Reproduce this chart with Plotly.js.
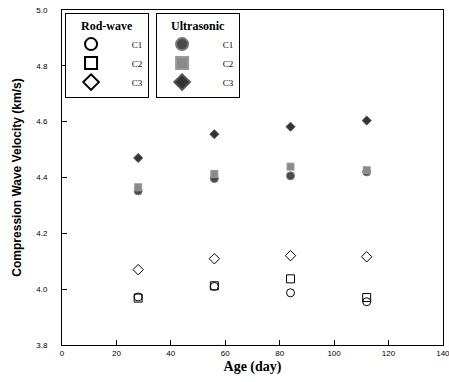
<!DOCTYPE html>
<html><head><meta charset="utf-8">
<script src="https://cdn.plot.ly/plotly-3.0.1.min.js"></script>
<style>html,body{margin:0;padding:0;background:#fff}#chart{width:449px;height:382px}</style>
</head><body><div id="chart"></div>
<script>
const ages = [28, 56, 84, 112];
const rodC1 = [3.972, 4.010, 3.987, 3.955];
const rodC2 = [3.968, 4.012, 4.037, 3.970];
const rodC3 = [4.070, 4.109, 4.120, 4.116];
const ultC1 = [4.352, 4.396, 4.406, 4.420];
const ultC2 = [4.365, 4.413, 4.439, 4.426];
const ultC3 = [4.470, 4.555, 4.582, 4.604];
const xTicks = [0, 20, 40, 60, 80, 100, 120, 140];
const yTicks = [3.8, 4.0, 4.2, 4.4, 4.6, 4.8, 5.0];

const pad = '\u00a0\u00a0\u00a0\u00a0\u00a0\u00a0\u00a0';
function tr(y, name, symbol, fill, lineColor, size, legend){
  return {x: ages, y: y, name: pad + name, type: 'scatter', mode: 'markers', legend: legend,
    marker: {symbol: symbol, size: size, color: fill, line: {color: lineColor, width: 1}}};
}
const data = [
  tr(rodC1, 'C1', 'circle-open', '#000', '#000', 8, 'legend'),
  tr(rodC2, 'C2', 'square-open', '#000', '#000', 8, 'legend'),
  tr(rodC3, 'C3', 'diamond-open', '#000', '#000', 8, 'legend'),
  tr(ultC1, 'C1', 'circle', '#4a4a4a', '#777', 8, 'legend2'),
  tr(ultC2, 'C2', 'square', '#8a8a8a', '#999', 7, 'legend2'),
  tr(ultC3, 'C3', 'diamond', '#333', '#555', 7, 'legend2')
];
const legBase = {
  bgcolor: '#fff', bordercolor: '#000', borderwidth: 1,
  font: {family: 'Liberation Serif', size: 9, color: '#000'},
  itemsizing: 'constant', itemwidth: 40, tracegroupgap: 0, yanchor: 'top', xanchor: 'left'
};
const layout = {
  width: 449, height: 382,
  margin: {l: 62, r: 6, t: 10, b: 37},
  paper_bgcolor: '#fff', plot_bgcolor: '#fff',
  showlegend: true,
  legend: Object.assign({}, legBase, {x: 0.008, y: 0.991,
    title: {text: '<b>Rod-wave</b>', side: 'top center', font: {family: 'Liberation Serif', size: 12, color: '#000'}}}),
  legend2: Object.assign({}, legBase, {x: 0.247, y: 0.991,
    title: {text: '<b>Ultrasonic</b>', side: 'top center', font: {family: 'Liberation Serif', size: 12, color: '#000'}}}),
  xaxis: {
    range: [0, 140.05], tickvals: xTicks, ticktext: xTicks.map(String),
    ticks: 'inside', ticklen: 5, tickcolor: '#000', ticklabeloverflow: 'allow',
    showline: true, linecolor: '#000', linewidth: 1, mirror: true,
    showgrid: false, zeroline: false,
    tickfont: {family: 'Liberation Sans Narrow, Liberation Sans', size: 8, color: '#000'},
    title: {text: '<b>Age (day)</b>', font: {family: 'Liberation Serif', size: 14, color: '#000'}, standoff: 4}
  },
  yaxis: {
    range: [3.8, 5.0], tickvals: yTicks, ticktext: yTicks.map(v => v.toFixed(1)),
    ticks: 'inside', ticklen: 5, tickcolor: '#000',
    showline: true, linecolor: '#000', linewidth: 1, mirror: true,
    showgrid: false, zeroline: false, ticklabelstandoff: 12,
    tickfont: {family: 'Liberation Sans Narrow, Liberation Sans', size: 8, color: '#000'},
    title: {text: '<b>Compression Wave Velocity (km/s)</b>', font: {family: 'Liberation Sans', size: 12, color: '#000'}, standoff: 12}
  }
};
Plotly.newPlot('chart', data, layout, {displayModeBar: false, staticPlot: true});
</script></body></html>
